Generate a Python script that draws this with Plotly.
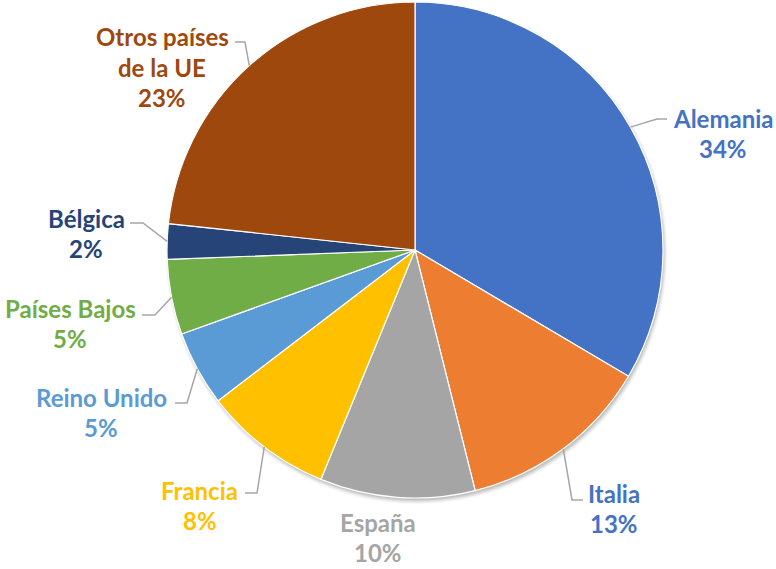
import math
import plotly.graph_objects as go

# ---- data ----
countries = ["Alemania", "Italia", "España", "Francia", "Reino Unido",
             "Países Bajos", "Bélgica", "Otros países<br>de la UE"]
shares = [33.5, 12.6, 10.1, 8.4, 4.9, 4.9, 2.3, 23.3]

# ---- styles ----
slice_colors = ["#4472C4", "#ED7D31", "#A5A5A5", "#FFC000", "#5B9BD5",
                "#70AD47", "#264478", "#9E480E"]
label_colors = ["#4472C4", "#4472C4", "#A5A5A5", "#FFC000", "#5B9BD5",
                "#70AD47", "#264478", "#9E480E"]

W, H = 776, 569
CX, CY, R = 415, 250, 248  # pie centre / radius in pixels

# label layout (pixel positions of first text line centre) and leader elbows
label_pos = [(723, 118), (614, 493), (378, 522), (200, 490),
             (101, 397), (70, 308), (86, 218), (162, 37)]
leaders = [[(657, 119), (667, 119)], [(572, 500), (583, 500)], None,
           [(257, 493), (245, 493)], [(187, 403), (175, 403)],
           [(155, 315), (142, 315)], [(143, 223), (130, 223)],
           [(245, 42), (235, 42)]]
LINE_H = 30.5
FONT = dict(family="Lato", size=24, weight="bold")


def px(x):
    return x / W


def py(y):
    return 1 - y / H


fig = go.Figure(go.Pie(
    labels=[c.replace("<br>", " ") for c in countries],
    values=shares,
    sort=False,
    direction="clockwise",
    rotation=0,
    marker=dict(colors=slice_colors, line=dict(color="white", width=1.2)),
    textinfo="none",
    hoverinfo="label+percent",
    showlegend=False,
    domain=dict(x=[px(CX - R), px(CX + R)], y=[py(CY + R), py(CY - R)]),
))

total = sum(shares)
annotations = []
shapes = []

# soft drop shadow under the pie
for d, op in [(5, 0.03), (4, 0.04), (3, 0.05), (2, 0.06), (1, 0.07)]:
    sx, sy, sr = CX + 1.5, CY + 3, R + d - 2
    shapes.append(dict(type="circle", xref="paper", yref="paper", layer="below",
                       x0=px(sx - sr), x1=px(sx + sr), y0=py(sy + sr), y1=py(sy - sr),
                       fillcolor=f"rgba(0,0,0,{op})", line=dict(width=0)))

cum = 0.0
for i, (name, v) in enumerate(zip(countries, shares)):
    mid = (cum + v / 2) / total * 2 * math.pi
    cum += v
    ex = CX + R * math.sin(mid)
    ey = CY - R * math.cos(mid)
    lines = name.split("<br>") + [f"{round(v / total * 100)}%"]
    lx, ly = label_pos[i]
    for k, t in enumerate(lines):
        annotations.append(dict(
            x=px(lx), y=py(ly + k * LINE_H), xref="paper", yref="paper",
            text=t, showarrow=False, xanchor="center", yanchor="middle",
            font=dict(color=label_colors[i], **FONT)))
    if leaders[i]:
        pts = [(ex, ey)] + leaders[i]
        path = "M " + " L ".join(f"{px(a)},{py(b)}" for a, b in pts)
        shapes.append(dict(type="path", xref="paper", yref="paper", path=path,
                           line=dict(color="#A6A6A6", width=1.5)))

fig.update_layout(
    width=W, height=H,
    margin=dict(l=0, r=0, t=0, b=0),
    paper_bgcolor="white", plot_bgcolor="white",
    annotations=annotations, shapes=shapes,
)

fig.write_html("out.html", config={"displayModeBar": False},
               post_script="document.body.style.margin='0';"
                           "document.body.style.overflow='hidden';")
